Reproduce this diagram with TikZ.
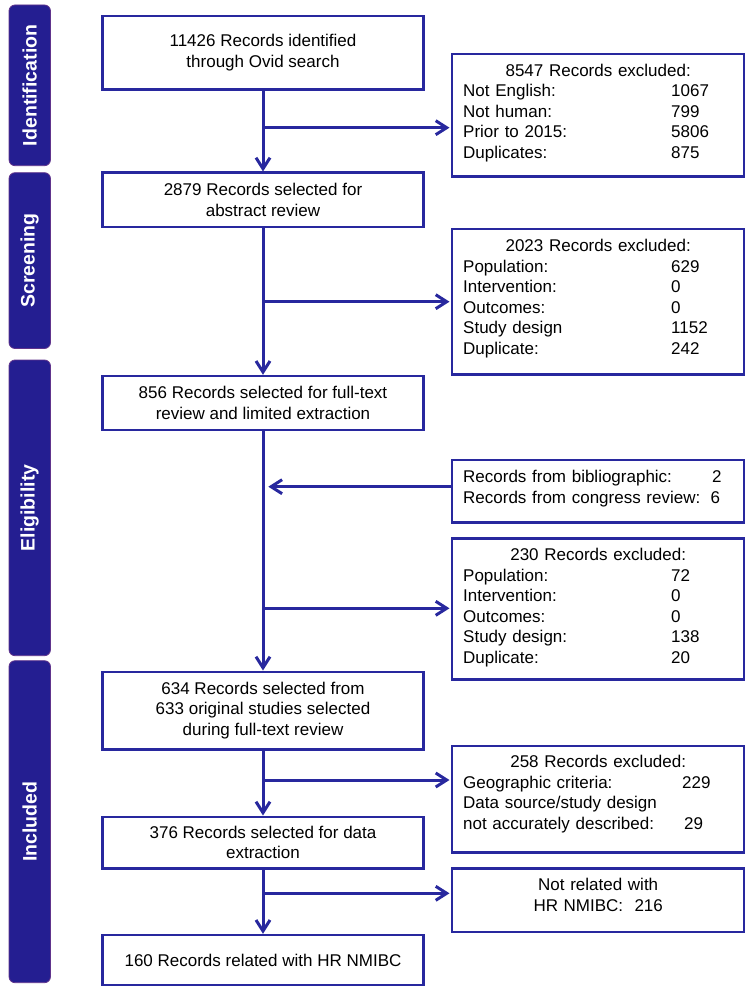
\documentclass[tikz,border=0pt]{standalone}
\usepackage{fontspec}
\setmainfont{Liberation Sans}
\usetikzlibrary{arrows.meta,calc}
\definecolor{flow}{RGB}{40,40,158}
\definecolor{bar}{RGB}{36,30,145}
\definecolor{barline}{RGB}{96,52,140}
\newcommand\prow[3]{\makebox[#1][l]{#2}#3}
\newcommand\pmid[1]{\makebox[270pt][c]{#1}}
\begin{document}
\begin{tikzpicture}[x=1pt,y=-1pt,
  mainbox/.style={draw=flow, line width=2.4pt, minimum width=321pt, inner sep=0pt, align=center, font=\fontsize{17}{20.5}\selectfont},
  sidebox/.style={draw=flow, line width=2.4pt, minimum width=292pt, inner sep=0pt},
  sidetext/.style={anchor=base west, inner sep=0pt, text width=270pt, align=left, font=\fontsize{17}{20.5}\selectfont},
  phase/.style={draw=barline, line width=0.8pt, fill=bar, rounded corners=6pt, minimum width=41.5pt, inner sep=0pt},
  phasetext/.style={text=white, inner sep=0pt, font=\fontsize{19.5}{22}\selectfont\bfseries, rotate=90},
  arr/.style={draw=flow, line width=3pt, -{Straight Barb[length=11pt,width=14pt]}},
  link/.style={draw=flow, line width=3pt},
]
\useasboundingbox (0,0) rectangle (750,992);

% phase bars
\node[phase, minimum height=160.7pt] (s1) at (29.75,85.35) {};
\node[phasetext] (s1t) at (s1) {Identification};
\node[phase, minimum height=175.8pt] (s2) at (29.75,260.6) {};
\node[phasetext] (s2t) at (s2) {Screening};
\node[phase, minimum height=295.7pt] (s3) at (29.75,507.85) {};
\node[phasetext] (s3t) at (s3) {Eligibility};
\node[phase, minimum height=322pt] (s4) at (29.75,821.7) {};
\node[phasetext] (s4t) at (s4) {Included};

% main boxes
\node[mainbox, minimum height=73.3pt] (b1) at (263,52.7) {11426 Records identified\\through Ovid search};
\node[mainbox, minimum height=54.6pt] (b2) at (263,200) {2879 Records selected for\\abstract review};
\node[mainbox, minimum height=54pt] (b3) at (263,403) {856 Records selected for full-text\\review and limited extraction};
\node[mainbox, minimum height=77.6pt] (b4) at (263,710.5) {634 Records selected from\\633 original studies selected\\during full-text review};
\node[mainbox, minimum height=51.6pt] (b5) at (263,842.5) {376 Records selected for data\\extraction};
\node[mainbox, minimum height=50pt] (b6) at (263,960) {160 Records related with HR NMIBC};

% side boxes
\node[sidebox, minimum height=122.7pt] (r1) at (598.2,115.35) {};
\node[sidetext] (r1t) at (463,76.5) {\pmid{8547 Records excluded:}\\
\prow{208pt}{Not English:}{1067}\\
\prow{208pt}{Not human:}{799}\\
\prow{208pt}{Prior to 2015:}{5806}\\
\prow{208pt}{Duplicates:}{875}};

\node[sidebox, minimum height=145.3pt] (r2) at (598.2,301.65) {};
\node[sidetext] (r2t) at (463,251.5) {\pmid{2023 Records excluded:}\\
\prow{208pt}{Population:}{629}\\
\prow{208pt}{Intervention:}{0}\\
\prow{208pt}{Outcomes:}{0}\\
\prow{208pt}{Study design}{1152}\\
\prow{208pt}{Duplicate:}{242}};

\node[sidebox, minimum height=62.3pt] (r3) at (598.2,491.15) {};
\node[sidetext] (r3t) at (463,482.5) {\prow{249pt}{Records from bibliographic:}{2}\\
\prow{247.5pt}{Records from congress review:}{6}};

\node[sidebox, minimum height=141pt] (r4) at (598.2,608.8) {};
\node[sidetext] (r4t) at (463,560.8) {\pmid{230 Records excluded:}\\
\prow{208pt}{Population:}{72}\\
\prow{208pt}{Intervention:}{0}\\
\prow{208pt}{Outcomes:}{0}\\
\prow{208pt}{Study design:}{138}\\
\prow{208pt}{Duplicate:}{20}};

\node[sidebox, minimum height=106.6pt] (r5) at (598.2,799) {};
\node[sidetext] (r5t) at (463,767.7) {\pmid{258 Records excluded:}\\
\prow{219pt}{Geographic criteria:}{229}\\
Data source/study design\\
\prow{221pt}{not accurately described:}{29}};

\node[sidebox, minimum height=63.4pt] (r6) at (598.2,900) {};
\node[sidetext] (r6t) at (463,890.8) {\pmid{Not related with}\\
\pmid{HR NMIBC:\ \ 216}};

% junctions
\coordinate (j1) at (262.3,127.7);
\coordinate (j2) at (262.3,301.7);
\coordinate (j3) at (268.3,486.7);
\coordinate (j4) at (262.3,608.3);
\coordinate (j5) at (262.3,780);
\coordinate (j6) at (262.3,893.3);

% main flow
\draw[arr] (b1.south) -- (b2.north);
\draw[arr] (b2.south) -- (b3.north);
\draw[arr] (b3.south) -- (b4.north);
\draw[arr] (b4.south) -- (b5.north);
\draw[arr] (b5.south) -- (b6.north);

% branches
\draw[arr, shorten >=1.5pt] (j1) -- (j1 -| r1.west);
\draw[arr, shorten >=1.5pt] (j2) -- (j2 -| r2.west);
\draw[arr] (j3 -| r3.west) -- (j3);
\draw[arr, shorten >=1.5pt] (j4) -- (j4 -| r4.west);
\draw[arr, shorten >=1.5pt] (j5) -- (j5 -| r5.west);
\draw[arr, shorten >=1.5pt] (j6) -- (j6 -| r6.west);
\end{tikzpicture}
\end{document}
